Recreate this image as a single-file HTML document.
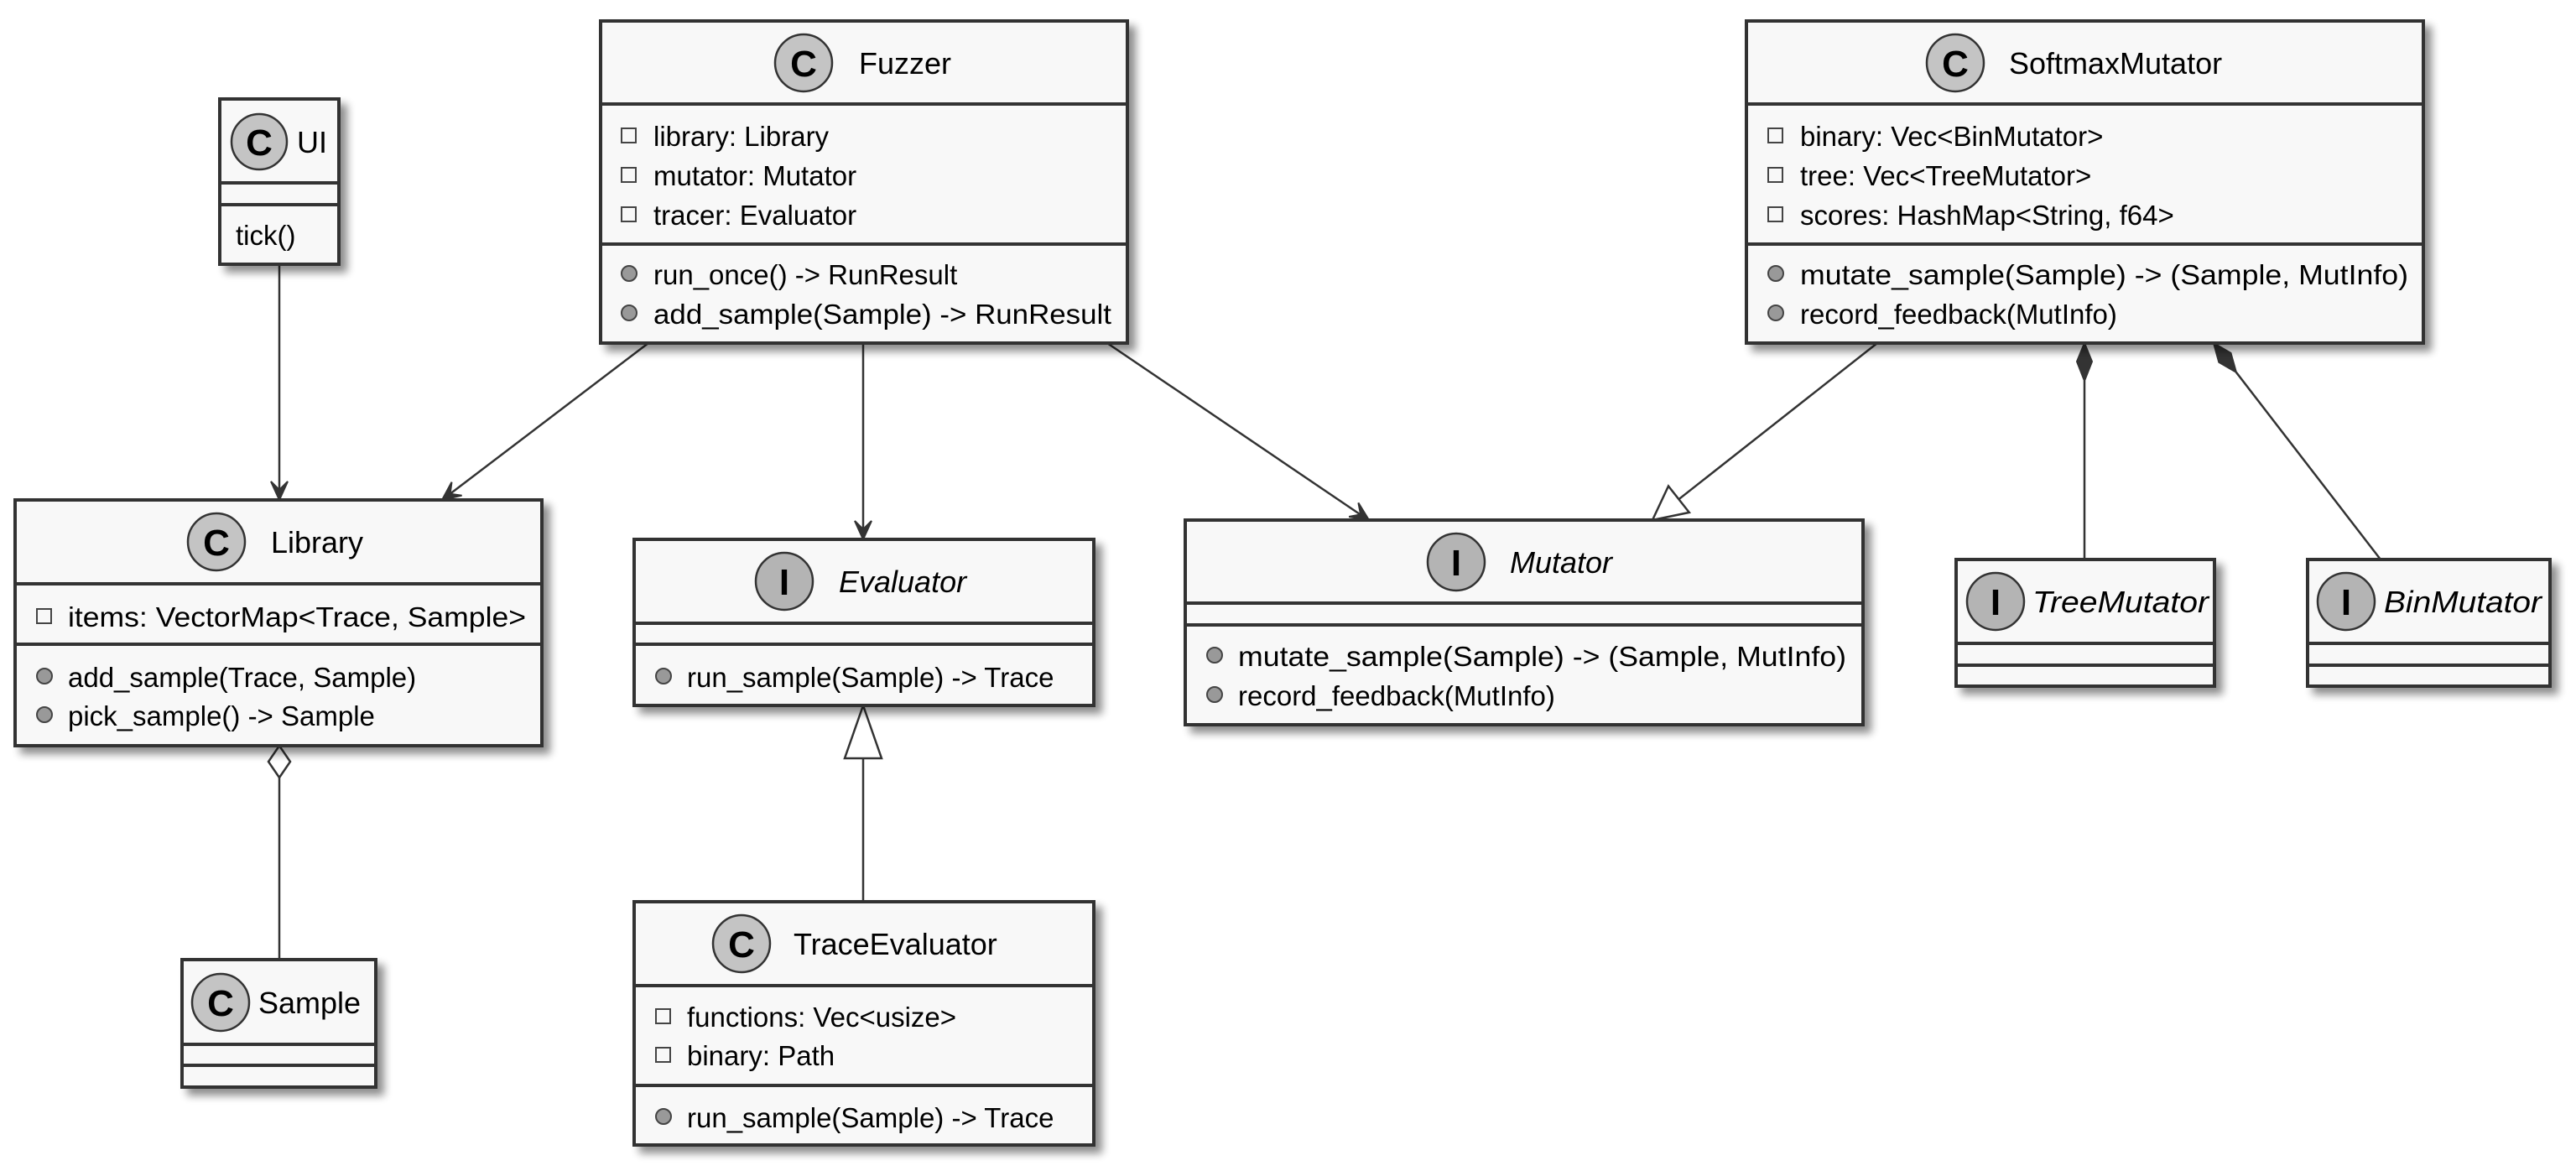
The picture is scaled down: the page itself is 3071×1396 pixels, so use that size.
<!DOCTYPE html>
<html><head><meta charset="utf-8"><style>
html,body{margin:0;padding:0;background:#fff}
svg{display:block}
text{font-family:"Liberation Sans","DejaVu Sans",sans-serif;fill:#000}
.t{font-size:36px}
.m{font-size:33px}
.i{font-style:italic}
.box{fill:#f8f8f8;stroke:#333;stroke-width:4}
.sep{stroke:#333;stroke-width:4}
.ln{stroke:#333;stroke-width:2.5;fill:none}
.ah{fill:#333;stroke:#333;stroke-width:2}
.ci{fill:#b4b4b4;stroke:#333;stroke-width:2.5}
.ci2{fill:#c4c4c4;stroke:#333;stroke-width:2.5}
.lt{font-size:44px;font-weight:bold}
.sq{fill:none;stroke:#444;stroke-width:2}
.dot{fill:#999;stroke:#444;stroke-width:2}
</style></head><body>
<svg width="3071" height="1396" viewBox="0 0 3071 1396" xmlns="http://www.w3.org/2000/svg">
<defs><filter id="sh" x="-10%" y="-10%" width="130%" height="130%"><feGaussianBlur in="SourceAlpha" stdDeviation="5"/><feOffset dx="8" dy="8"/><feComponentTransfer><feFuncA type="linear" slope="0.45"/></feComponentTransfer><feMerge><feMergeNode/><feMergeNode in="SourceGraphic"/></feMerge></filter></defs>

<!-- connectors -->
<line class="ln" x1="333" y1="315" x2="333" y2="590"/>
<path class="ah" d="M333,596 L343,574 L333,584 L323,574 Z"/>
<line class="ln" x1="773" y1="409" x2="531" y2="593"/>
<path class="ah" d="M527,596 L550.6,590.7 L536.6,588.7 L538.5,574.7 Z"/>
<line class="ln" x1="1029" y1="409" x2="1029" y2="637"/>
<path class="ah" d="M1029,643 L1039,621 L1029,631 L1019,621 Z"/>
<line class="ln" x1="1320" y1="409" x2="1627" y2="617"/>
<path class="ah" d="M1632,620 L1608.2,616 L1622.1,613.3 L1619.4,599.4 Z"/>
<line class="ln" x1="2238" y1="409" x2="2001.4" y2="595.2"/>
<path d="M1970,620 L2013.8,610.9 L1989,579.5 Z" fill="#fff" stroke="#333" stroke-width="2.5"/>
<line class="ln" x1="2485" y1="454" x2="2485" y2="667"/>
<path class="ah" d="M2485,409 L2494,431 L2485,454 L2476,431 Z"/>
<line class="ln" x1="2665.9" y1="443.8" x2="2838" y2="667"/>
<path class="ah" d="M2639,409 L2659.5,420.9 L2665.9,443.8 L2645.3,431.9 Z"/>
<line class="ln" x1="333" y1="927" x2="333" y2="1144"/>
<path d="M333,889 L346,908 L333,927 L320,908 Z" fill="#fff" stroke="#333" stroke-width="2.5"/>
<line class="ln" x1="1029" y1="904" x2="1029" y2="1075"/>
<path d="M1029,841 L1051,904 L1007,904 Z" fill="#fff" stroke="#333" stroke-width="2.5"/>

<!-- UI -->
<g filter="url(#sh)"><rect class="box" x="262" y="118" width="142" height="197"/></g>
<line class="sep" x1="262" y1="218" x2="404" y2="218"/>
<line class="sep" x1="262" y1="244" x2="404" y2="244"/>
<circle class="ci2" cx="309" cy="169" r="33"/><text class="lt" x="309" y="185" text-anchor="middle">C</text>
<text class="t" x="354" y="182">UI</text>
<text class="m" x="281" y="292">tick()</text>

<!-- Fuzzer -->
<g filter="url(#sh)"><rect class="box" x="716" y="25" width="628" height="384"/></g>
<line class="sep" x1="716" y1="124" x2="1344" y2="124"/>
<line class="sep" x1="716" y1="291" x2="1344" y2="291"/>
<circle class="ci2" cx="958" cy="75" r="34"/><text class="lt" x="958" y="91" text-anchor="middle">C</text>
<text class="t" x="1024" y="88">Fuzzer</text>
<rect class="sq" x="741" y="153" width="17" height="17"/><text class="m" x="779" y="174">library: Library</text>
<rect class="sq" x="741" y="200" width="17" height="17"/><text class="m" x="779" y="221">mutator: Mutator</text>
<rect class="sq" x="741" y="247" width="17" height="17"/><text class="m" x="779" y="268">tracer: Evaluator</text>
<circle class="dot" cx="750" cy="326" r="9"/><text class="m" x="779" y="339">run_once() -&gt; RunResult</text>
<circle class="dot" cx="750" cy="373" r="9"/><text class="m" x="779" y="386" textLength="546" lengthAdjust="spacingAndGlyphs">add_sample(Sample) -&gt; RunResult</text>

<!-- SoftmaxMutator -->
<g filter="url(#sh)"><rect class="box" x="2082" y="25" width="807" height="384"/></g>
<line class="sep" x1="2082" y1="124" x2="2889" y2="124"/>
<line class="sep" x1="2082" y1="291" x2="2889" y2="291"/>
<circle class="ci2" cx="2331" cy="75" r="34"/><text class="lt" x="2331" y="91" text-anchor="middle">C</text>
<text class="t" x="2395" y="88">SoftmaxMutator</text>
<rect class="sq" x="2108" y="153" width="17" height="17"/><text class="m" x="2146" y="174">binary: Vec&lt;BinMutator&gt;</text>
<rect class="sq" x="2108" y="200" width="17" height="17"/><text class="m" x="2146" y="221">tree: Vec&lt;TreeMutator&gt;</text>
<rect class="sq" x="2108" y="247" width="17" height="17"/><text class="m" x="2146" y="268">scores: HashMap&lt;String, f64&gt;</text>
<circle class="dot" cx="2117" cy="326" r="9"/><text class="m" x="2146" y="339" textLength="725" lengthAdjust="spacingAndGlyphs">mutate_sample(Sample) -&gt; (Sample, MutInfo)</text>
<circle class="dot" cx="2117" cy="373" r="9"/><text class="m" x="2146" y="386">record_feedback(MutInfo)</text>

<!-- Library -->
<g filter="url(#sh)"><rect class="box" x="18" y="596" width="628" height="293"/></g>
<line class="sep" x1="18" y1="696" x2="646" y2="696"/>
<line class="sep" x1="18" y1="768" x2="646" y2="768"/>
<circle class="ci2" cx="258" cy="646" r="34"/><text class="lt" x="258" y="662" text-anchor="middle">C</text>
<text class="t" x="323" y="659">Library</text>
<rect class="sq" x="44" y="726" width="17" height="17"/><text class="m" x="81" y="747" textLength="546" lengthAdjust="spacingAndGlyphs">items: VectorMap&lt;Trace, Sample&gt;</text>
<circle class="dot" cx="53" cy="806" r="9"/><text class="m" x="81" y="819">add_sample(Trace, Sample)</text>
<circle class="dot" cx="53" cy="852" r="9"/><text class="m" x="81" y="865">pick_sample() -&gt; Sample</text>

<!-- Evaluator -->
<g filter="url(#sh)"><rect class="box" x="756" y="643" width="548" height="198"/></g>
<line class="sep" x1="756" y1="743" x2="1304" y2="743"/>
<line class="sep" x1="756" y1="768" x2="1304" y2="768"/>
<circle class="ci" cx="935" cy="693" r="34"/><text class="lt" x="935" y="709" text-anchor="middle">I</text>
<text class="t i" x="1000" y="706">Evaluator</text>
<circle class="dot" cx="791" cy="806" r="9"/><text class="m" x="819" y="819">run_sample(Sample) -&gt; Trace</text>

<!-- Mutator -->
<g filter="url(#sh)"><rect class="box" x="1413" y="620" width="808" height="244"/></g>
<line class="sep" x1="1413" y1="719" x2="2221" y2="719"/>
<line class="sep" x1="1413" y1="745" x2="2221" y2="745"/>
<circle class="ci" cx="1736" cy="670" r="34"/><text class="lt" x="1736" y="686" text-anchor="middle">I</text>
<text class="t i" x="1800" y="683">Mutator</text>
<circle class="dot" cx="1448" cy="781" r="9"/><text class="m" x="1476" y="794" textLength="725" lengthAdjust="spacingAndGlyphs">mutate_sample(Sample) -&gt; (Sample, MutInfo)</text>
<circle class="dot" cx="1448" cy="828" r="9"/><text class="m" x="1476" y="841">record_feedback(MutInfo)</text>

<!-- TreeMutator -->
<g filter="url(#sh)"><rect class="box" x="2332" y="667" width="308" height="151"/></g>
<line class="sep" x1="2332" y1="767" x2="2640" y2="767"/>
<line class="sep" x1="2332" y1="793" x2="2640" y2="793"/>
<circle class="ci" cx="2379" cy="717" r="34"/><text class="lt" x="2379" y="733" text-anchor="middle">I</text>
<text class="t i" x="2423" y="730" textLength="210" lengthAdjust="spacingAndGlyphs">TreeMutator</text>

<!-- BinMutator -->
<g filter="url(#sh)"><rect class="box" x="2751" y="667" width="289" height="151"/></g>
<line class="sep" x1="2751" y1="767" x2="3040" y2="767"/>
<line class="sep" x1="2751" y1="793" x2="3040" y2="793"/>
<circle class="ci" cx="2797" cy="717" r="34"/><text class="lt" x="2797" y="733" text-anchor="middle">I</text>
<text class="t i" x="2842" y="730" textLength="188" lengthAdjust="spacingAndGlyphs">BinMutator</text>

<!-- Sample -->
<g filter="url(#sh)"><rect class="box" x="217" y="1144" width="231" height="152"/></g>
<line class="sep" x1="217" y1="1245" x2="448" y2="1245"/>
<line class="sep" x1="217" y1="1270" x2="448" y2="1270"/>
<circle class="ci2" cx="263" cy="1195" r="34"/><text class="lt" x="263" y="1211" text-anchor="middle">C</text>
<text class="t" x="308" y="1208">Sample</text>

<!-- TraceEvaluator -->
<g filter="url(#sh)"><rect class="box" x="756" y="1075" width="548" height="290"/></g>
<line class="sep" x1="756" y1="1175" x2="1304" y2="1175"/>
<line class="sep" x1="756" y1="1294" x2="1304" y2="1294"/>
<circle class="ci2" cx="884" cy="1125" r="34"/><text class="lt" x="884" y="1141" text-anchor="middle">C</text>
<text class="t" x="946" y="1138">TraceEvaluator</text>
<rect class="sq" x="782" y="1203" width="17" height="17"/><text class="m" x="819" y="1224">functions: Vec&lt;usize&gt;</text>
<rect class="sq" x="782" y="1249" width="17" height="17"/><text class="m" x="819" y="1270">binary: Path</text>
<circle class="dot" cx="791" cy="1331" r="9"/><text class="m" x="819" y="1344">run_sample(Sample) -&gt; Trace</text>
</svg>
</body></html>
